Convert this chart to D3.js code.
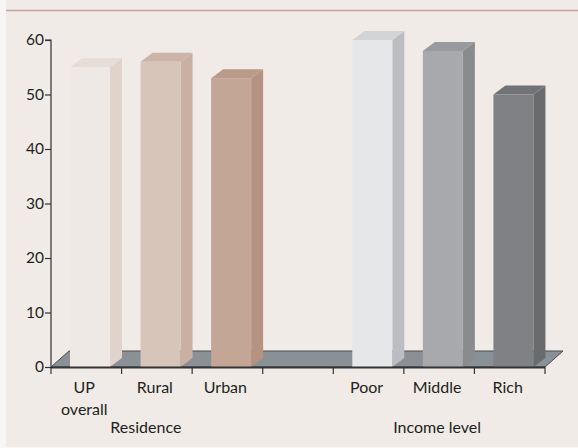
<!DOCTYPE html>
<html><head><meta charset="utf-8">
<script src="https://cdn.jsdelivr.net/npm/d3@7/dist/d3.min.js"></script>
<style>
html,body{margin:0;padding:0;background:#f8f6f4;}
svg{display:block;font-family:Lato,"Open Sans",sans-serif;}
</style></head>
<body><svg id="c" width="578" height="448"></svg>
<script>
// Data
const categories = ["UP overall","Rural","Urban","","Poor","Middle","Rich"];
const values = [55, 56, 53, null, 60, 58, 50];
const labelLines = [["UP","overall"],["Rural"],["Urban"],[],["Poor"],["Middle"],["Rich"]];
const groupLabels = ["Residence","Income level"];
const yTicks = [0,10,20,30,40,50,60];
const frontColors = ["#efe9e5","#d8c5ba","#c4a696","","#e6e7e9","#a8a9ac","#808184"];
const sideColors  = ["#e0d3cc","#c9b0a3","#b59282","","#bcbdc0","#8a8b8d","#6a6b6d"];
const topColors   = ["#e6ddd7","#ccb5a8","#ba9b8a","","#d3d4d6","#999a9d","#727376"];

const svg = d3.select("#c");
svg.append("rect").attr("x",6).attr("y",0).attr("width",572).attr("height",447).attr("fill","#f0ebe7");
svg.append("line").attr("x1",6).attr("x2",578).attr("y1",10.5).attr("y2",10.5)
  .attr("stroke","#c6a596").attr("stroke-width",1.6);

const x = d3.scaleBand().domain(categories.map((c,i)=>i)).range([51,545]).paddingInner(0).paddingOuter(0);
const y = d3.scaleLinear().domain([0,60]).range([367,40]);

const ddx = 12, ddy = -9;   // bar depth
const fdx = 18, fdy = -16;  // floor depth
const y0 = y(0);

// floor
svg.append("path")
  .attr("d", `M${x.range()[0]},${y0} L${x.range()[1]},${y0} L${x.range()[1]+fdx},${y0+fdy} L${x.range()[0]+fdx},${y0+fdy} Z`)
  .attr("fill","#899096").attr("stroke","#4a4a4c").attr("stroke-width",1);

// bars
const bars = svg.append("g");
categories.forEach((c,i)=>{
  const v = values[i];
  if (v == null) return;
  const x0 = x(i) + 19, w = 40;
  const yt = y(v);
  const g = bars.append("g");
  g.append("path").attr("d",`M${x0+w},${yt} L${x0+w+ddx},${yt+ddy} L${x0+w+ddx},${y0+ddy} L${x0+w},${y0} Z`).attr("fill",sideColors[i]);
  g.append("path").attr("d",`M${x0},${yt} L${x0+ddx},${yt+ddy} L${x0+w+ddx},${yt+ddy} L${x0+w},${yt} Z`).attr("fill",topColors[i]);
  g.append("rect").attr("x",x0).attr("y",yt).attr("width",w).attr("height",y0-yt).attr("fill",frontColors[i]);
});

// x axis line and ticks
svg.append("line").attr("x1",51).attr("x2",545).attr("y1",y0+0.5).attr("y2",y0+0.5).attr("stroke","#333").attr("stroke-width",2);
const tickXs = categories.map((c,i)=>x(i)).concat([x.range()[1]]);
svg.append("g").selectAll("line").data(tickXs).join("line")
  .attr("x1",d=>d).attr("x2",d=>d).attr("y1",y0).attr("y2",y0+7).attr("stroke","#333").attr("stroke-width",1.2);

// y axis
const yAxis = d3.axisLeft(y).tickValues(yTicks).tickSize(6).tickPadding(1);
const ya = svg.append("g").attr("transform","translate(51,0)").call(yAxis);
ya.select(".domain").attr("stroke","#333").attr("stroke-width",1.2).attr("d",`M-6,${y(60)}H0V${y0}`);
ya.selectAll(".tick line").attr("stroke","#333").attr("stroke-width",1.2);
ya.selectAll(".tick text").attr("font-size",15.5).attr("fill","#231f20").attr("font-family","Lato,sans-serif");

// x labels
const lab = svg.append("g").attr("font-size",16).attr("fill","#231f20").attr("text-anchor","middle");
labelLines.forEach((lines,i)=>{
  lines.forEach((t,k)=>{
    lab.append("text").attr("x",x(i)+x.bandwidth()/2-2).attr("y",393+k*22).text(t);
  });
});
lab.append("text").attr("x",x(1)+x.bandwidth()/2-11).attr("y",433).text(groupLabels[0]);
lab.append("text").attr("x",x(5)+x.bandwidth()/2-2).attr("y",433).text(groupLabels[1]);
</script></body></html>
